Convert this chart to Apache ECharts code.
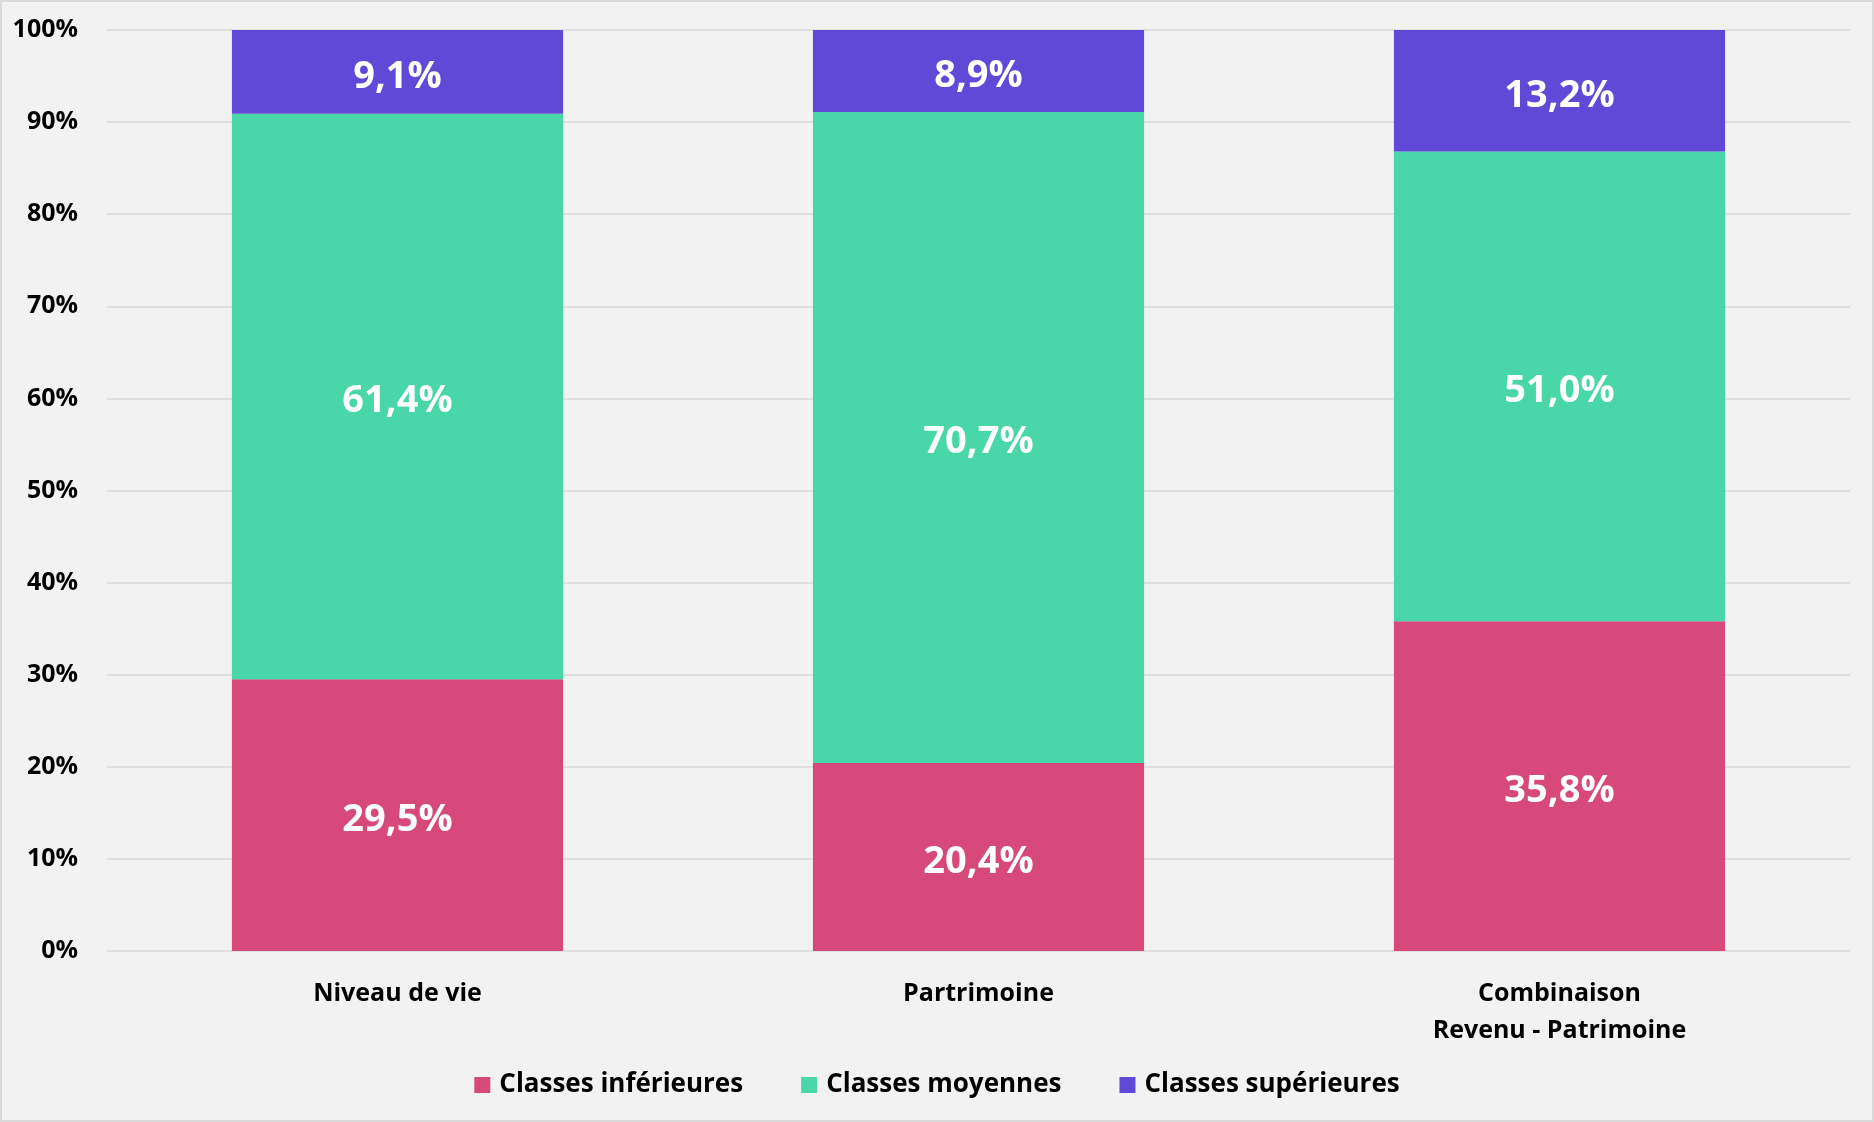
<!DOCTYPE html>
<html>
<head>
<meta charset="utf-8">
<script src="https://cdn.jsdelivr.net/npm/echarts@6/dist/echarts.min.js"></script>
<style>
  html, body { margin: 0; padding: 0; background: #f2f2f2; }
  #wrap { width: 1874px; height: 1122px; box-sizing: border-box; border: 2px solid #d9d9d9; background: #f2f2f2; }
  #chart { width: 1870px; height: 1118px; }
</style>
</head>
<body>
<div id="wrap"><div id="chart"></div></div>
<script>
const categories = ['Niveau de vie', 'Partrimoine', 'Combinaison\nRevenu - Patrimoine'];
const seriesNames = ['Classes inférieures', 'Classes moyennes', 'Classes supérieures'];
const inferieures = [29.5, 20.4, 35.8];
const moyennes = [61.4, 70.7, 51.0];
const superieures = [9.1, 8.9, 13.2];
const colors = ['#d6497a', '#49d6a8', '#6049d6'];
const yTicks = [0, 10, 20, 30, 40, 50, 60, 70, 80, 90, 100];

const FONT = "'Open Sans', 'DejaVu Sans', sans-serif";
const chart = echarts.init(document.getElementById('chart'), null, { renderer: 'canvas' });

function mk(name, data, color) {
  return {
    name: name,
    type: 'bar',
    stack: 'total',
    data: data,
    barWidth: '57%',
    itemStyle: { color: color },
    label: {
      show: true,
      position: 'inside',
      offset: [0, 5],
      color: '#ffffff',
      fontFamily: FONT,
      fontWeight: 'bold',
      fontSize: 38,
      formatter: p => p.value.toFixed(1).replace('.', ',') + '%'
    },
    emphasis: { disabled: true }
  };
}

chart.setOption({
  backgroundColor: '#f2f2f2',
  animation: false,
  grid: { left: 105, right: 22, top: 28, bottom: 169, containLabel: false },
  legend: {
    data: seriesNames,
    left: 'center',
    top: 1065,
    icon: 'rect',
    itemWidth: 16,
    itemHeight: 16,
    itemGap: 58,
    textStyle: { fontFamily: FONT, fontWeight: 'bold', fontSize: 26, color: '#000', padding: [0, 0, 0, 4] }
  },
  xAxis: {
    type: 'category',
    data: categories,
    axisLine: { show: false },
    axisTick: { show: false },
    axisLabel: {
      color: '#000', fontFamily: FONT, fontWeight: 'bold', fontSize: 25,
      lineHeight: 37, margin: 24
    }
  },
  yAxis: {
    type: 'value',
    min: yTicks[0],
    max: yTicks[yTicks.length - 1],
    interval: 10,
    axisLine: { show: false },
    axisTick: { show: false },
    splitLine: { lineStyle: { color: '#d9d9d9', width: 1.5 } },
    axisLabel: {
      color: '#000', fontFamily: FONT, fontWeight: 'bold', fontSize: 25,
      margin: 29, formatter: '{value}%'
    }
  },
  series: [
    mk(seriesNames[0], inferieures, colors[0]),
    mk(seriesNames[1], moyennes, colors[1]),
    mk(seriesNames[2], superieures, colors[2])
  ]
});
</script>
</body>
</html>
